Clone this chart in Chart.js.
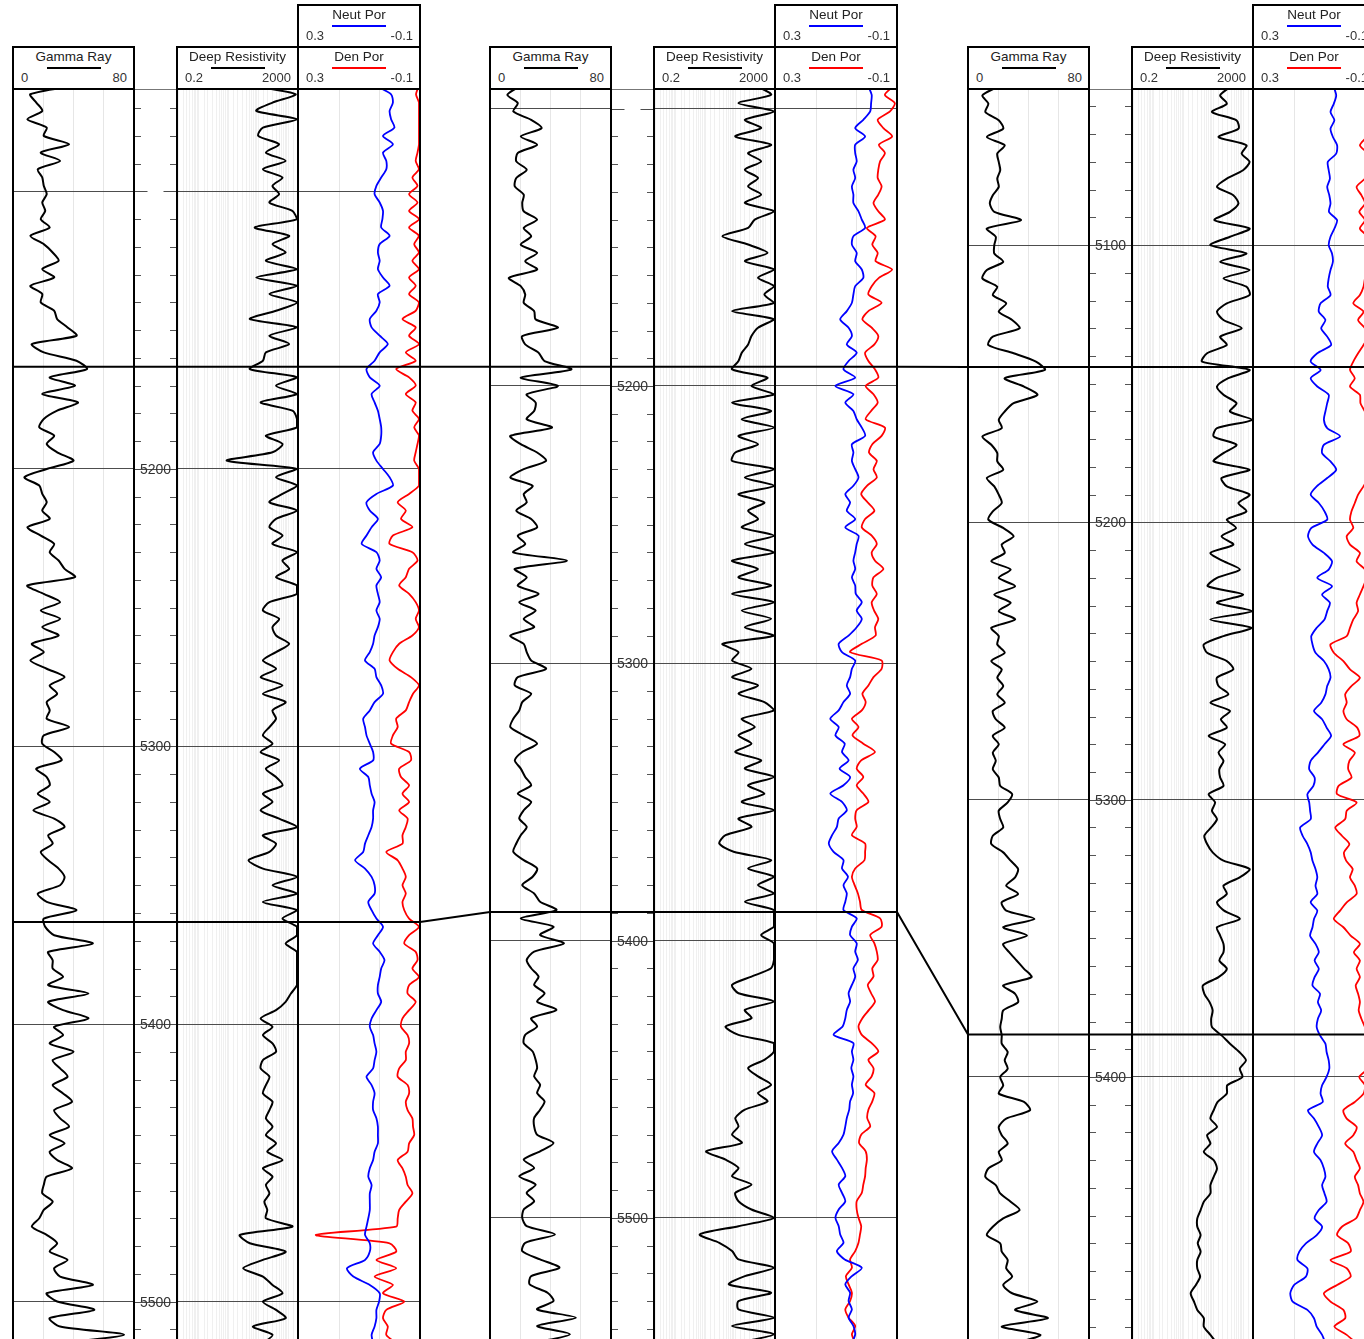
<!DOCTYPE html>
<html>
<head>
<meta charset="utf-8">
<script src="https://cdn.jsdelivr.net/npm/chart.js@4.4.0/dist/chart.umd.min.js"></script>
<style>
    body { margin: 0; background: #fff; font-family: "Liberation Sans", Arial, sans-serif; color: #333; }
    #page { position: relative; width: 1364px; height: 1339px; overflow: hidden; }
    .box { position: absolute; box-sizing: border-box; border: 2px solid #000; background: #fff; }
    .track { position: absolute; box-sizing: border-box; border-left: 2px solid #000; border-right: 2px solid #000; }
    .dtrack { position: absolute; }
    .track canvas, .dtrack canvas { display: block; }
    .ttl { position: absolute; left: 0; right: 0; top: 1px; text-align: center; font-size: 13.5px; line-height: 16px; color: #222; }
    .smp { position: absolute; left: 50%; width: 54px; margin-left: -27px; top: 19px; height: 2px; }
    .lo, .hi { position: absolute; top: 22px; font-size: 13px; line-height: 16px; color: #333; }
    .lo { left: 7px; }
    .hi { right: 6px; }
    #overlay { position: absolute; left: 0; top: 0; z-index: 10; pointer-events: none; }
</style>
</head>
<body>
<div id="page"></div>
<script>
"use strict"

// all curves are read every 3 ft, starting at the first depth of each well
const depthStep = 3

// ---- well 1 ----
const w1Start = 5062
const w1Range = [5063.1, 5517.1]
const w1Lines = [5100, 5200, 5300, 5400, 5500]
const w1Labels = [5200, 5300, 5400, 5500]
const w1Gr = [40,11,15,19,9,22,20,37,18,31,16,19,20,22,19,21,18,24,11,20,26,30,19,27,11,19,18,27,29,36,
    42,12,20,42,49,24,41,19,43,29,20,17,27,22,29,40,22,7,17,19,22,19,24,9,18,27,24,30,34,41,
    9,20,31,18,31,19,30,12,20,11,22,34,24,29,22,24,22,37,20,19,27,32,15,22,24,16,24,13,27,34,
    23,26,18,23,30,34,31,16,22,42,20,21,27,53,23,26,26,33,23,50,23,33,50,27,33,24,40,26,31,36,
    26,33,39,27,31,37,24,34,24,29,39,22,20,19,26,20,17,12,22,29,24,36,27,31,53,22,29,54,24,31,74,31]
const w1Res = [66,1800,300,86,2000,143,100,500,180,830,143,650,300,500,237,1400,2000,76,1089,300,
    830,180,2000,86,2000,237,2000,394,52,2000,237,1089,180,143,52,2000,394,2000,120,1400,
    2000,2000,180,650,300,8.7,2000,394,2000,650,237,2000,394,237,650,300,2000,650,1089,394,
    2000,2000,237,143,500,300,394,1089,394,143,394,120,650,143,830,300,
    394,237,143,300,120,500,180,394,650,143,300,120,500,2000,143,394,237,47,143,2000,
    300,2000,143,2000,650,2000,2000,830,2000,2000,2000,2000,2000,1250,830,394,120,300,143,300,
    394,143,120,237,180,143,300,237,180,300,180,394,200,650,143,300,180,237,160,200,
    180,1400,24,52,830,143,31,143,300,650,143,394,830,66,300,143]
const w1Neut = [0.042,-0.007,-0.013,-0.002,-0.007,-0.018,0.020,-0.013,0.020,0.009,
    0.009,0.026,0.042,0.048,0.031,0.020,0.022,0.026,-0.002,0.031,
    0.037,0.031,0.037,0.020,-0.002,0.037,0.031,0.042,0.064,0.058,
    0.031,0.004,0.031,0.048,0.075,0.064,0.031,0.058,0.048,0.037,
    0.031,0.026,0.026,0.031,0.053,0.042,0.020,-0.002,-0.013,0.042,
    0.075,0.064,0.037,0.058,0.075,0.091,0.042,0.031,0.042,0.026,
    0.042,0.037,0.031,0.042,0.031,0.037,0.048,0.053,0.064,0.080,
    0.048,0.042,0.026,0.020,0.048,0.064,
    0.086,0.080,0.075,0.064,0.053,0.053,0.097,0.069,0.064,0.058,
    0.048,0.053,0.053,0.058,0.069,0.080,0.086,0.113,0.080,0.058,
    0.048,0.048,0.069,0.058,0.042,0.020,0.037,0.053,0.031,0.015,
    0.026,0.031,0.037,0.037,0.026,0.042,0.058,0.064,0.053,0.048,
    0.042,0.048,0.053,0.075,0.058,0.048,0.053,0.053,0.042,0.037,
    0.037,0.037,0.048,0.053,0.064,0.069,0.058,0.064,0.064,0.064,
    0.069,0.075,0.080,0.064,0.064,0.080,0.140,0.119,0.064,0.031,
    0.033,0.042,0.042,0.048,0.058,0.053]
const w1Den = [-0.1,-0.09,-0.1,-0.1,-0.1,-0.1,-0.1,-0.1,-0.095,-0.089,
    -0.1,-0.078,-0.095,-0.067,-0.095,-0.067,-0.1,-0.067,-0.1,-0.084,
    -0.1,-0.078,-0.1,-0.067,-0.089,-0.067,-0.1,-0.089,-0.045,-0.089,
    -0.067,-0.1,-0.056,-0.089,-0.024,-0.067,-0.089,-0.056,-0.089,-0.078,
    -0.1,-0.084,-0.1,-0.095,-0.089,-0.084,-0.1,-0.1,-0.1,-0.067,
    -0.029,-0.056,-0.040,-0.078,-0.013,-0.002,-0.078,-0.095,-0.067,-0.056,
    -0.034,-0.067,-0.089,-0.1,-0.089,-0.1,-0.078,-0.034,-0.013,-0.002,
    -0.029,-0.073,-0.1,-0.080,-0.067,-0.056,
    -0.024,-0.029,-0.013,-0.007,-0.067,-0.073,-0.034,-0.040,-0.067,-0.045,
    -0.067,-0.034,-0.062,-0.056,-0.045,-0.045,0.009,-0.029,-0.045,-0.056,
    -0.045,-0.056,-0.045,-0.051,-0.067,-0.1,-0.067,-0.051,-0.089,-0.095,
    -0.078,-0.1,-0.067,-0.062,-0.089,-0.067,-0.045,-0.040,-0.062,-0.067,
    -0.056,-0.056,-0.034,-0.029,-0.062,-0.067,-0.056,-0.062,-0.078,-0.080,
    -0.084,-0.067,-0.062,-0.029,-0.045,-0.056,-0.062,-0.078,-0.056,-0.034,
    -0.029,-0.024,0.244,-0.002,-0.024,0.042,-0.024,0.048,-0.013,0.020,
    -0.051,0.009,0.020,0.004,0.009,-0.024]

// ---- well 2 ----
const w2Start = 5092
const w2Range = [5092.9, 5547.3]
const w2Lines = [5100, 5200, 5300, 5400, 5500]
const w2Labels = [5200, 5300, 5400, 5500]
const w2Gr = [19,11,18,15,27,34,20,31,18,17,24,17,16,22,21,22,31,22,27,20,
    31,23,31,12,20,23,22,29,30,45,21,23,32,36,54,20,45,24,30,29,
    24,41,13,20,31,37,22,13,28,22,24,17,27,31,18,23,15,51,16,24,
    18,32,19,30,22,29,13,22,24,27,37,18,16,27,21,19,
    15,13,22,31,21,16,20,23,27,18,27,22,19,24,20,17,15,22,31,28,
    21,29,33,44,20,42,33,49,29,24,27,32,29,36,31,44,27,31,23,22,
    28,30,31,29,33,31,36,33,29,29,31,42,33,22,29,19,30,24,29,22,
    21,24,43,23,21,33,46,27,26,38,42,31,57,31,53,29]
const w2Res = [580,1600,128,2000,210,740,100,1600,270,740,210,580,270,740,210,2000,450,270,37,270,
    1210,210,2000,580,2000,950,2000,78,2000,580,350,270,165,128,78,1210,350,2000,78,1600,
    165,2000,128,580,100,78,2000,210,2000,128,950,270,580,165,2000,210,2000,78,580,128,
    1600,78,2000,165,1600,210,2000,37,128,78,350,78,580,128,950,2000,
    165,450,128,350,100,740,210,2000,270,950,165,2000,128,350,47,29,88,1600,270,2000,
    580,2000,210,2000,2000,2000,740,2000,2000,2000,1600,350,78,128,2000,210,350,47,128,2000,
    2000,950,270,580,1600,580,1210,210,100,128,78,165,10.5,47,128,78,350,100,128,350,
    2000,128,6.4,29,78,128,2000,210,61,1600,128,128,2000,78,2000,128]
const w2Neut = [-0.008,-0.019,-0.017,-0.014,0.009,0.036,0.003,0.036,0.036,0.031,
    0.042,0.036,0.047,0.042,0.042,0.025,0.014,0.003,0.042,0.047,
    0.031,0.036,0.014,0.009,0.036,0.042,0.047,0.064,0.086,0.058,
    0.047,0.064,0.031,0.058,0.075,0.036,0.102,0.042,0.069,0.042,
    0.031,0.014,0.003,0.047,0.042,0.047,0.036,0.025,0.042,0.069,
    0.053,0.064,0.036,0.069,0.025,0.031,0.036,0.042,0.036,0.047,
    0.036,0.034,0.014,0.031,0.014,0.031,0.058,0.091,0.080,0.036,
    0.047,0.053,0.064,0.053,0.075,0.091,
    0.119,0.091,0.102,0.071,0.080,0.058,0.088,0.053,0.075,0.119,
    0.080,0.064,0.091,0.097,0.113,0.124,0.108,0.075,0.080,0.060,
    0.075,0.064,0.069,0.075,0.031,0.047,0.053,0.031,0.036,0.027,
    0.042,0.036,0.047,0.058,0.053,0.064,0.069,0.078,0.108,0.042,
    0.047,0.042,0.049,0.042,0.047,0.043,0.053,0.056,0.064,0.069,
    0.075,0.091,0.113,0.097,0.080,0.069,0.091,0.080,0.069,0.091,
    0.102,0.091,0.086,0.075,0.097,0.071,0.014,0.047,0.069,0.053,
    0.058,0.047,0.058,0.042,0.036,0.047]
const w2Den = [-0.090,-0.063,-0.096,-0.080,-0.039,-0.058,-0.087,-0.043,-0.063,-0.047,
    -0.041,-0.039,-0.052,-0.041,-0.025,-0.041,-0.063,-0.003,-0.032,-0.021,
    -0.039,-0.032,-0.087,-0.043,-0.019,-0.008,-0.052,-0.008,0.012,-0.019,
    -0.041,-0.028,0.003,-0.008,-0.030,-0.041,0.001,-0.025,-0.039,-0.017,
    0.001,-0.063,-0.052,-0.021,-0.010,-0.036,-0.025,-0.036,-0.003,0.016,
    -0.006,-0.028,0.003,0.014,-0.019,-0.036,-0.019,-0.030,-0.058,-0.025,
    -0.021,-0.036,-0.019,-0.027,-0.041,-0.030,-0.032,0.014,0.053,-0.052,
    -0.052,-0.025,-0.008,0.012,0.001,0.014,
    0.047,0.025,0.045,0.009,-0.030,0.016,0.031,0.009,0.031,0.009,
    -0.008,0.031,0.036,0.031,0.047,0.003,0.003,0.005,0.036,0.047,
    0.038,0.027,0.020,0.014,-0.047,-0.052,-0.014,-0.028,-0.036,-0.039,
    -0.021,-0.025,-0.006,-0.017,-0.030,-0.010,0.012,0.025,0.014,-0.019,
    -0.041,-0.008,-0.025,-0.019,0.001,-0.028,-0.021,-0.008,-0.004,-0.014,
    0.016,0.023,0.001,-0.003,0.001,0.003,0.009,0.014,0.031,0.031,
    0.025,0.016,0.020,0.025,0.036,0.053,0.047,0.067,0.058,0.047,
    0.053,0.069,0.058,0.036,0.047,0.036]

// ---- well 3 ----
const w3Start = 5043
const w3Range = [5043.7, 5498.1]
const w3Lines = [5100, 5200, 5300, 5400]
const w3Labels = [5100, 5200, 5300, 5400]
const w3Gr = [19,9,13,11,20,23,12,24,19,20,21,19,20,16,14,17,35,12,18,17,
    17,23,12,9,19,16,25,20,29,34,16,13,30,45,51,24,37,46,30,24,
    20,22,9,15,19,19,23,12,17,20,22,16,13,23,30,22,24,15,28,20,
    31,17,28,20,31,15,20,19,24,15,22,19,23,19,24,16,
    18,24,16,20,16,18,16,20,21,29,26,20,21,23,16,15,23,28,33,31,
    25,33,22,25,44,23,39,23,27,32,37,42,23,31,33,23,22,21,22,22,
    26,24,26,21,23,20,37,41,25,20,22,26,20,22,13,11,18,21,28,34,
    23,16,12,21,22,26,25,29,23,29,46,31,53,22,48,31]
const w3Res = [364,170,285,90,604,700,150,1300,900,1660,1000,285,133,470,700,364,110,1660,364,80,
    1300,170,1660,220,1300,1660,285,133,220,900,170,285,62,42,1660,320,133,220,604,364,
    2000,133,103,604,220,103,1660,190,285,1660,700,1300,285,580,190,470,80,220,780,133,
    65,1000,133,2000,80,1900,220,48,62,285,470,133,150,320,80,364,
    180,285,70,250,150,220,160,170,220,70,115,90,133,85,50,62,95,220,1660,780,
    220,285,133,230,780,133,170,220,220,160,285,150,45,50,75,95,85,90,190,364,
    750,1250,780,950,295,285,140,103,80,133,62,80,48,103,133,103,80,80,48,37.5,
    29,29,37.5,30,37.5,29,29,36,26,17.4,22.5,29,48,48,80,133]
const w3Neut = [0.034,0.026,0.034,0.045,0.032,0.045,0.037,0.023,0.026,0.054,
    0.051,0.047,0.056,0.049,0.045,0.050,0.023,0.032,0.045,0.051,
    0.040,0.037,0.045,0.051,0.054,0.045,0.078,0.084,0.062,0.076,
    0.056,0.043,0.089,0.111,0.078,0.111,0.089,0.051,0.056,0.062,
    0.067,0.056,0.013,0.067,0.073,0.045,0.026,0.056,0.091,0.111,
    0.084,0.065,0.056,0.109,0.120,0.105,0.067,0.040,0.051,0.089,
    0.040,0.073,0.047,0.056,0.065,0.091,0.109,0.105,0.095,0.067,
    0.051,0.045,0.056,0.062,0.076,0.100,
    0.073,0.058,0.043,0.065,0.087,0.111,0.116,0.098,0.102,0.122,
    0.116,0.113,0.111,0.146,0.138,0.122,0.111,0.105,0.095,0.089,
    0.095,0.089,0.111,0.089,0.100,0.105,0.113,0.095,0.084,0.098,
    0.084,0.098,0.105,0.080,0.087,0.076,0.087,0.091,0.080,0.062,
    0.058,0.051,0.049,0.058,0.073,0.078,0.071,0.120,0.100,0.084,
    0.073,0.089,0.100,0.078,0.067,0.062,0.073,0.065,0.058,0.084,
    0.098,0.073,0.091,0.127,0.149,0.155,0.122,0.127,0.166,0.179,
    0.171,0.122,0.100,0.091,0.073,0.062]
const w3Den = [-0.09,-0.085,-0.095,-0.08,-0.09,-0.085,-0.075,-0.053,-0.08,-0.09,
    -0.085,-0.07,-0.042,-0.058,-0.07,-0.051,-0.07,-0.053,-0.08,-0.09,
    -0.085,-0.09,-0.08,-0.07,-0.065,-0.053,-0.031,-0.065,-0.047,-0.07,
    -0.08,-0.065,-0.047,-0.031,-0.020,-0.036,-0.020,-0.053,-0.055,-0.07,
    -0.085,-0.09,-0.08,-0.09,-0.085,-0.075,-0.085,-0.08,-0.065,-0.047,
    -0.036,-0.025,-0.020,-0.031,-0.009,-0.020,-0.053,-0.042,-0.07,-0.075,
    -0.065,-0.053,-0.042,-0.047,-0.031,-0.020,-0.009,0.045,0.034,0.002,
    -0.020,-0.053,-0.025,-0.004,-0.009,0.002,
    -0.009,-0.044,-0.051,0.002,-0.036,-0.018,-0.014,-0.025,0.018,0.023,
    -0.042,-0.009,-0.004,0.029,0.007,-0.018,0.000,-0.007,-0.029,-0.020,
    -0.036,-0.042,-0.009,0.013,0.034,0.002,-0.022,-0.053,-0.033,-0.053,
    -0.042,-0.053,-0.039,-0.047,-0.053,-0.049,-0.058,-0.07,-0.08,-0.09,
    -0.085,-0.09,-0.08,-0.051,-0.07,-0.065,-0.036,0.002,-0.009,-0.042,
    -0.031,-0.004,-0.031,-0.042,-0.053,-0.036,-0.047,-0.053,-0.065,-0.053,
    -0.040,0.007,0.023,-0.014,-0.022,0.045,-0.009,-0.022,0.023,0.067,
    0.045,0.002,-0.004,0.032,-0.009,-0.042]

// correlation tops (ft) in well 1, 2, 3
const topA = [5163.2, 5193.1, 5144.0]
const topB = [5363.2, 5389.7, 5384.7]

// header texts
const grTitle = "Gamma Ray", grMin = "0", grMax = "80"
const resTitle = "Deep Resistivity", resMin = "0.2", resMax = "2000"
const neutTitle = "Neut Por", denTitle = "Den Por", porMin = "0.3", porMax = "-0.1"

const wells = [
    { x0: 13, start: w1Start, range: w1Range, lines: w1Lines, labels: w1Labels, gr: w1Gr, res: w1Res, neut: w1Neut, den: w1Den },
    { x0: 490, start: w2Start, range: w2Range, lines: w2Lines, labels: w2Labels, gr: w2Gr, res: w2Res, neut: w2Neut, den: w2Den },
    { x0: 968, start: w3Start, range: w3Range, lines: w3Lines, labels: w3Labels, gr: w3Gr, res: w3Res, neut: w3Neut, den: w3Den }
]

const page = document.getElementById("page")
const trackTop = 89
const trackHeight = 1260

const addDiv = (cls, left, top, width, height) => {
    let d = document.createElement("div")
    d.className = cls
    d.style.left = left + "px"
    d.style.top = top + "px"
    d.style.width = width + "px"
    d.style.height = height + "px"
    page.appendChild(d)
    return d
}

// a track div with a canvas inside (borders take 2px on each side)
const addTrack = (left, width, bordered) => {
    let d = addDiv(bordered ? "track" : "dtrack", left, trackTop, width, trackHeight)
    let c = document.createElement("canvas")
    let inner = bordered ? width - 4 : width
    c.width = inner
    c.height = trackHeight
    c.style.width = inner + "px"
    c.style.height = trackHeight + "px"
    d.appendChild(c)
    return c
}

const addHeader = (left, top, width, title, color, lo, hi) => {
    let b = addDiv("box", left, top, width, 44)
    b.innerHTML = `<div class="ttl">${title}</div><div class="smp" style="background:${color}"></div><span class="lo">${lo}</span><span class="hi">${hi}</span>`
}

const toPoints = (vals, start) => vals.map((v, i) => ({ x: v, y: start + i * depthStep }))

const yScaleFor = (well) => ({
    type: "linear",
    reverse: true,
    min: well.range[0],
    max: well.range[1],
    ticks: { display: false },
    border: { display: false },
    grid: { drawTicks: false, color: "#4d4d4d", lineWidth: 1 },
    afterBuildTicks: (s) => { s.ticks = well.lines.map(v => ({ value: v })) }
})

const baseOptions = (xScale, well, gridColor) => ({
    animation: false,
    responsive: false,
    events: [],
    layout: { padding: 0, autoPadding: false },
    plugins: { legend: { display: false }, tooltip: { enabled: false } },
    elements: { point: { radius: 0 }, line: { borderWidth: 1.8, tension: 0.25 } },
    scales: {
        x: Object.assign({
            display: true,
            ticks: { display: false },
            border: { display: false },
            grid: { drawTicks: false, color: gridColor, lineWidth: 1 }
        }, xScale),
        y: yScaleFor(well)
    }
})

const curve = (vals, well, color) => ({
    data: toPoints(vals, well.start),
    borderColor: color,
    borderWidth: color === "#000" ? 2 : 1.8,
    pointRadius: 0,
    fill: false
})

// depth track: 10 ft ticks on both sides, 100 ft lines and labels
const depthTrack = {
    id: "depthTrack",
    afterDraw(chart, args, opts) {
        const { ctx, chartArea: a, scales: { y } } = chart
        ctx.save()
        ctx.lineWidth = 1
        ctx.strokeStyle = "#777"
        ctx.beginPath()
        ctx.moveTo(a.left, a.top + 0.5)
        ctx.lineTo(a.right, a.top + 0.5)
        ctx.stroke()
        ctx.strokeStyle = "#555"
        for (let d = Math.ceil(y.min / 10) * 10; d <= y.max; d += 10) {
            const py = Math.round(y.getPixelForValue(d)) + 0.5
            ctx.beginPath()
            ctx.moveTo(a.left, py); ctx.lineTo(a.left + 6, py)
            ctx.moveTo(a.right - 6, py); ctx.lineTo(a.right, py)
            ctx.stroke()
        }
        const mid = (a.left + a.right) / 2
        ctx.font = "14px 'Liberation Sans', Arial, sans-serif"
        ctx.fillStyle = "#333"
        ctx.textBaseline = "middle"
        for (const d of opts.lines) {
            const py = Math.round(y.getPixelForValue(d)) + 0.5
            ctx.strokeStyle = "#4d4d4d"
            ctx.beginPath()
            if (opts.labels.includes(d)) {
                ctx.moveTo(a.left, py); ctx.lineTo(a.right, py)
                ctx.stroke()
                ctx.fillText(String(d), a.left + 5, py + 0.5)
            } else {
                ctx.moveTo(a.left, py); ctx.lineTo(mid - 8, py)
                ctx.moveTo(mid + 8, py); ctx.lineTo(a.right, py)
                ctx.stroke()
            }
        }
        ctx.restore()
    }
}

for (const w of wells) {
    const x0 = w.x0

    // gamma ray
    let grCanvas = addTrack(x0 - 1, 123, true)
    w.grChart = new Chart(grCanvas, {
        type: "line",
        data: { datasets: [curve(w.gr, w, "#000")] },
        options: baseOptions({ type: "linear", min: 0, max: 80, afterBuildTicks: (s) => { s.ticks = [20, 40, 60].map(v => ({ value: v })) } }, w, "#e6e6e6")
    })

    // depth
    let dCanvas = addTrack(x0 + 122, 41, false)
    new Chart(dCanvas, {
        type: "line",
        data: { datasets: [] },
        options: {
            animation: false, responsive: false, events: [],
            layout: { padding: 0, autoPadding: false },
            plugins: { legend: { display: false }, tooltip: { enabled: false }, depthTrack: { lines: w.lines, labels: w.labels } },
            scales: {
                x: { type: "linear", min: 0, max: 1, display: false },
                y: { type: "linear", reverse: true, min: w.range[0], max: w.range[1], display: false }
            }
        },
        plugins: [depthTrack]
    })

    // resistivity
    let rCanvas = addTrack(x0 + 163, 123, true)
    new Chart(rCanvas, {
        type: "line",
        data: { datasets: [curve(w.res, w, "#000")] },
        options: baseOptions({ type: "logarithmic", min: 0.2, max: 2000 }, w, "#f0f0f0")
    })

    // porosity
    let pCanvas = addTrack(x0 + 284, 124, true)
    new Chart(pCanvas, {
        type: "line",
        data: { datasets: [curve(w.neut, w, "#0000ff"), curve(w.den, w, "#ff0000")] },
        options: baseOptions({
            type: "linear", min: -0.1, max: 0.3, reverse: true,
            afterBuildTicks: (s) => { s.ticks = [0.3 - 0.4 / 3, 0.3 - 0.8 / 3].map(v => ({ value: v })) }
        }, w, "#e6e6e6")
    })

    // headers
    addHeader(x0 - 1, 46, 123, grTitle, "#000", grMin, grMax)
    addHeader(x0 + 163, 46, 123, resTitle, "#000", resMin, resMax)
    addHeader(x0 + 284, 46, 124, denTitle, "#ff0000", porMin, porMax)
    addHeader(x0 + 284, 4, 124, neutTitle, "#0000ff", porMin, porMax)
}

// correlation lines between the wells
const overlay = document.createElement("canvas")
overlay.id = "overlay"
overlay.width = 1364
overlay.height = 1339
page.appendChild(overlay)
const octx = overlay.getContext("2d")
octx.strokeStyle = "#000"
octx.lineWidth = 2
octx.lineJoin = "miter"

const drawTop = (depths) => {
    octx.beginPath()
    wells.forEach((w, i) => {
        const y = trackTop + w.grChart.scales.y.getPixelForValue(depths[i])
        if (i === 0) octx.moveTo(w.x0, y)
        else octx.lineTo(w.x0, y)
        octx.lineTo(w.x0 + 407, y)
    })
    octx.stroke()
}
drawTop(topA)
drawTop(topB)
</script>
</body>
</html>
